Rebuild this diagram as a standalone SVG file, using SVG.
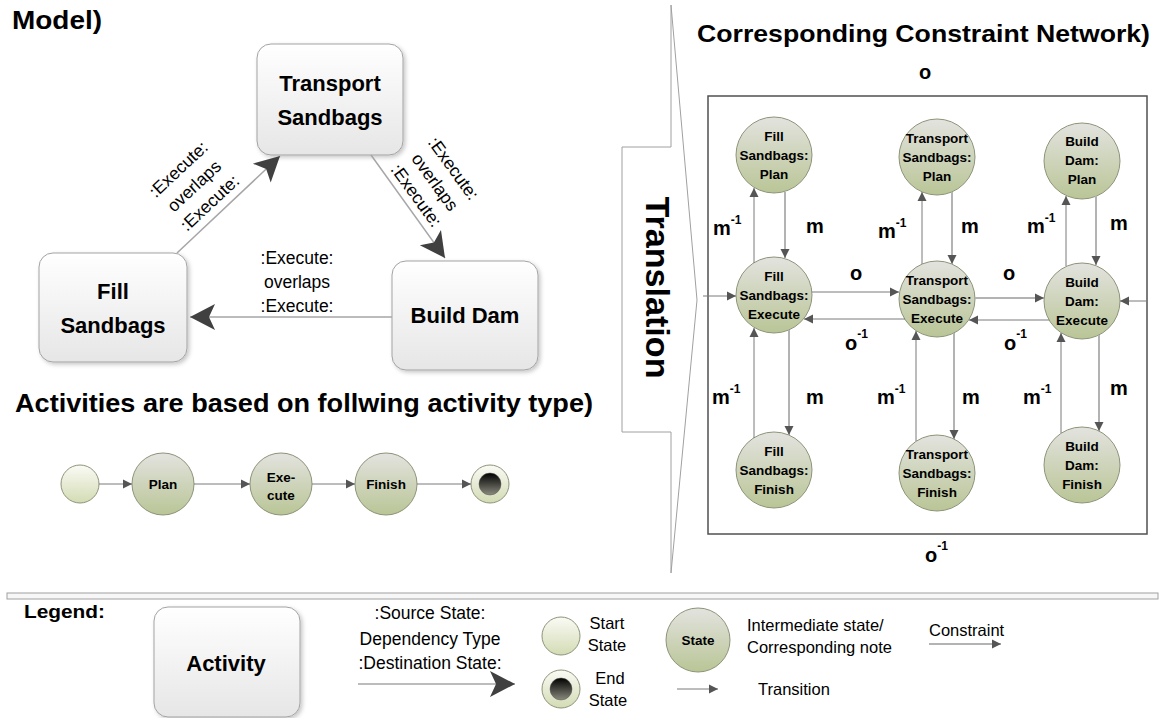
<svg xmlns="http://www.w3.org/2000/svg" width="1160" height="718" viewBox="0 0 1160 718">
<style>
text{font-family:"Liberation Sans",Arial,sans-serif;fill:#000}
.title{font-weight:bold}
.box{fill:url(#gBox);stroke:#a3a3a3;stroke-width:1}
.bt{font-weight:bold;font-size:22px;text-anchor:middle}
.lbl{font-size:17.5px;text-anchor:middle}
.st{fill:url(#gState);stroke:#8c9478;stroke-width:1}
.nt{font-weight:bold;font-size:13.5px;text-anchor:middle}
.start{fill:url(#gStart);stroke:#8c9478;stroke-width:1}
.endi{fill:url(#gEnd);stroke:#555;stroke-width:0.5}
.ml{fill:none;stroke:#a6a6a6;stroke-width:1.5}
.tl{fill:none;stroke:#7a7a7a;stroke-width:1}
.cl{fill:none;stroke:#b3b3b3;stroke-width:2}
.rel{font-weight:bold;font-size:20px}
.sup{font-size:12px;font-weight:bold}
.lg{font-size:16.5px}
</style>
<defs>
<linearGradient id="gBox" x1="0" y1="0" x2="0" y2="1"><stop offset="0" stop-color="#ffffff"/><stop offset="1" stop-color="#e6e6e6"/></linearGradient>
<linearGradient id="gState" x1="0" y1="0" x2="0" y2="1"><stop offset="0" stop-color="#e3e3df"/><stop offset="1" stop-color="#b9c596"/></linearGradient>
<linearGradient id="gStart" x1="0" y1="0" x2="0" y2="1"><stop offset="0" stop-color="#fafbf5"/><stop offset="1" stop-color="#d3dbb4"/></linearGradient>
<linearGradient id="gEnd" x1="0" y1="0" x2="0" y2="1"><stop offset="0" stop-color="#000000"/><stop offset="1" stop-color="#8a8a7e"/></linearGradient>
<filter id="sh" x="-10%" y="-10%" width="130%" height="130%"><feDropShadow dx="2" dy="2" stdDeviation="2" flood-color="#000" flood-opacity="0.22"/></filter>
<marker id="big" markerUnits="userSpaceOnUse" viewBox="-26 -14 28 28" refX="0" refY="0" markerWidth="28" markerHeight="28" orient="auto"><path d="M0,0 L-25,-13 L-19,0 L-25,13 Z" fill="#404040"/></marker>
<marker id="sm" markerUnits="userSpaceOnUse" viewBox="-10 -5 11 10" refX="0" refY="0" markerWidth="11" markerHeight="10" orient="auto"><path d="M0,0 L-9,-4.5 L-9,4.5 Z" fill="#555"/></marker>
</defs>

<!-- Titles -->
<text class="title" x="12" y="29" font-size="25" textLength="90" lengthAdjust="spacingAndGlyphs">Model)</text>
<text class="title" x="697" y="42" font-size="24" textLength="453" lengthAdjust="spacingAndGlyphs">Corresponding Constraint Network)</text>
<text class="title" x="15" y="412" font-size="26" textLength="578" lengthAdjust="spacingAndGlyphs">Activities are based on follwing activity type)</text>

<!-- Translation block arrow -->
<g id="translation">
<polygon points="622,147 671,147 671,5 697,300 671,573 671,432 622,432" fill="#fff" stroke="#a0a0a0" stroke-width="1"/>
<text class="title" font-size="34" transform="translate(646,287.5) rotate(90)" text-anchor="middle" textLength="182" lengthAdjust="spacingAndGlyphs">Translation</text>
</g>

<!-- Model nodes -->
<g id="transport-sandbags"><rect class="box" x="257" y="44" width="146" height="111" rx="14" filter="url(#sh)"/><text class="bt" x="330" y="91">Transport</text><text class="bt" x="330" y="125">Sandbags</text></g>
<g id="fill-sandbags"><rect class="box" x="39" y="253" width="148" height="109" rx="14" filter="url(#sh)"/><text class="bt" x="113" y="299">Fill</text><text class="bt" x="113" y="333">Sandbags</text></g>
<g id="build-dam"><rect class="box" x="392" y="261" width="146" height="109" rx="14" filter="url(#sh)"/><text class="bt" x="465" y="323">Build Dam</text></g>

<!-- Model connectors -->
<g id="model-connectors">
<line class="ml" x1="177" y1="253" x2="280" y2="156" marker-end="url(#big)"/>
<line class="ml" x1="371" y1="155" x2="445" y2="258" marker-end="url(#big)"/>
<line class="ml" x1="392" y1="317" x2="190" y2="317" marker-end="url(#big)"/>
<g transform="translate(194,186) rotate(-43)"><text class="lbl" x="0" y="-17">:Execute:</text><text class="lbl" x="0" y="6">overlaps</text><text class="lbl" x="0" y="29">:Execute:</text></g>
<g transform="translate(435,182) rotate(54)"><text class="lbl" x="0" y="-17">:Execute:</text><text class="lbl" x="0" y="6">overlaps</text><text class="lbl" x="0" y="29">:Execute:</text></g>
<text class="lbl" x="297" y="264">:Execute:</text><text class="lbl" x="297" y="288">overlaps</text><text class="lbl" x="297" y="312">:Execute:</text>
</g>

<!-- Activity type row -->
<g id="at-start"><circle class="start" cx="80" cy="484" r="19"/></g>
<g id="at-plan"><circle class="st" cx="163" cy="484" r="31"/><text class="nt" x="163" y="489">Plan</text></g>
<g id="at-execute"><circle class="st" cx="281" cy="484" r="31"/><text class="nt" x="281" y="482">Exe-</text><text class="nt" x="281" y="500">cute</text></g>
<g id="at-finish"><circle class="st" cx="386" cy="484" r="31"/><text class="nt" x="386" y="489">Finish</text></g>
<g id="at-end"><circle class="start" cx="490" cy="484" r="19"/><circle class="endi" cx="490" cy="484" r="11"/></g>
<g id="at-connectors">
<line class="tl" x1="99" y1="484" x2="132" y2="484" marker-end="url(#sm)"/>
<line class="tl" x1="194" y1="484" x2="250" y2="484" marker-end="url(#sm)"/>
<line class="tl" x1="312" y1="484" x2="355" y2="484" marker-end="url(#sm)"/>
<line class="tl" x1="417" y1="484" x2="471" y2="484" marker-end="url(#sm)"/>
</g>

<!-- Constraint network -->
<g id="network-frame"><rect x="708" y="96" width="439" height="438" fill="none" stroke="#505050" stroke-width="1.5"/></g>

<g id="fs-plan"><circle class="st" cx="774" cy="155" r="38"/><text class="nt" x="774" y="141">Fill</text><text class="nt" x="774" y="160">Sandbags:</text><text class="nt" x="774" y="179">Plan</text></g>
<g id="ts-plan"><circle class="st" cx="937" cy="157" r="38"/><text class="nt" x="937" y="143">Transport</text><text class="nt" x="937" y="162">Sandbags:</text><text class="nt" x="937" y="181">Plan</text></g>
<g id="bd-plan"><circle class="st" cx="1082" cy="161" r="38"/><text class="nt" x="1082" y="146">Build</text><text class="nt" x="1082" y="165">Dam:</text><text class="nt" x="1082" y="184">Plan</text></g>

<g id="fs-execute"><circle class="st" cx="774" cy="295" r="38"/><text class="nt" x="774" y="281">Fill</text><text class="nt" x="774" y="300">Sandbags:</text><text class="nt" x="774" y="319">Execute</text></g>
<g id="ts-execute"><circle class="st" cx="937" cy="299" r="38"/><text class="nt" x="937" y="285">Transport</text><text class="nt" x="937" y="304">Sandbags:</text><text class="nt" x="937" y="323">Execute</text></g>
<g id="bd-execute"><circle class="st" cx="1082" cy="301" r="38"/><text class="nt" x="1082" y="287">Build</text><text class="nt" x="1082" y="306">Dam:</text><text class="nt" x="1082" y="325">Execute</text></g>

<g id="fs-finish"><circle class="st" cx="774" cy="470" r="38"/><text class="nt" x="774" y="456">Fill</text><text class="nt" x="774" y="475">Sandbags:</text><text class="nt" x="774" y="494">Finish</text></g>
<g id="ts-finish"><circle class="st" cx="937" cy="473" r="38"/><text class="nt" x="937" y="459">Transport</text><text class="nt" x="937" y="478">Sandbags:</text><text class="nt" x="937" y="497">Finish</text></g>
<g id="bd-finish"><circle class="st" cx="1082" cy="465" r="38"/><text class="nt" x="1082" y="451">Build</text><text class="nt" x="1082" y="470">Dam:</text><text class="nt" x="1082" y="489">Finish</text></g>

<g id="network-connectors">
<line class="tl" x1="754" y1="263" x2="754" y2="188" marker-end="url(#sm)"/>
<line class="cl" x1="785" y1="192" x2="785" y2="258" marker-end="url(#sm)"/>
<line class="tl" x1="922" y1="264" x2="922" y2="192" marker-end="url(#sm)"/>
<line class="cl" x1="952" y1="192" x2="952" y2="264" marker-end="url(#sm)"/>
<line class="tl" x1="1066" y1="266" x2="1066" y2="196" marker-end="url(#sm)"/>
<line class="cl" x1="1096" y1="196" x2="1096" y2="265" marker-end="url(#sm)"/>

<line class="tl" x1="754" y1="438" x2="754" y2="328" marker-end="url(#sm)"/>
<line class="cl" x1="789" y1="330" x2="789" y2="435" marker-end="url(#sm)"/>
<line class="tl" x1="916" y1="441" x2="916" y2="331" marker-end="url(#sm)"/>
<line class="cl" x1="954" y1="333" x2="954" y2="439" marker-end="url(#sm)"/>
<line class="tl" x1="1061" y1="433" x2="1061" y2="333" marker-end="url(#sm)"/>
<line class="cl" x1="1099" y1="335" x2="1099" y2="431" marker-end="url(#sm)"/>

<line class="tl" x1="812" y1="292" x2="899" y2="292" marker-end="url(#sm)"/>
<line class="tl" x1="905" y1="319" x2="804" y2="319" marker-end="url(#sm)"/>
<line class="cl" x1="975" y1="298" x2="1044" y2="298" marker-end="url(#sm)"/>
<line class="tl" x1="1049" y1="320" x2="969" y2="320" marker-end="url(#sm)"/>

<line class="tl" x1="703" y1="296" x2="736" y2="296" stroke-width="1.5" marker-end="url(#sm)"/>
<line class="tl" x1="1147" y1="301" x2="1120" y2="301" stroke-width="1.5" marker-end="url(#sm)"/>

<text class="rel" x="713" y="235">m<tspan class="sup" dy="-11">-1</tspan></text>
<text class="rel" x="806" y="233">m</text>
<text class="rel" x="878" y="238">m<tspan class="sup" dy="-11">-1</tspan></text>
<text class="rel" x="961" y="233">m</text>
<text class="rel" x="1027" y="233">m<tspan class="sup" dy="-11">-1</tspan></text>
<text class="rel" x="1110" y="230">m</text>

<text class="rel" x="712" y="404">m<tspan class="sup" dy="-11">-1</tspan></text>
<text class="rel" x="806" y="404">m</text>
<text class="rel" x="877" y="404">m<tspan class="sup" dy="-11">-1</tspan></text>
<text class="rel" x="962" y="404">m</text>
<text class="rel" x="1023" y="404">m<tspan class="sup" dy="-11">-1</tspan></text>
<text class="rel" x="1110" y="395">m</text>

<text class="rel" x="850" y="280">o</text>
<text class="rel" x="1003" y="280">o</text>
<text class="rel" x="845" y="350">o<tspan class="sup" dy="-12">-1</tspan></text>
<text class="rel" x="1004" y="350">o<tspan class="sup" dy="-12">-1</tspan></text>
<text class="rel" x="919" y="79">o</text>
<text class="rel" x="925" y="562">o<tspan class="sup" dy="-12">-1</tspan></text>
</g>

<!-- Legend -->
<g id="separator"><rect x="7" y="593" width="1151" height="6" fill="#f7f7f7" stroke="#a0a0a0" stroke-width="1"/></g>
<g id="legend">
<text class="title" x="24" y="618" font-size="19" textLength="81" lengthAdjust="spacingAndGlyphs">Legend:</text>
<g id="lg-activity"><rect class="box" x="154" y="607" width="146" height="110" rx="14" filter="url(#sh)"/><text class="bt" x="226" y="671">Activity</text></g>
<text class="lbl" x="430" y="619">:Source State:</text>
<text class="lbl" x="430" y="645">Dependency Type</text>
<text class="lbl" x="430" y="669">:Destination State:</text>
<line class="ml" x1="358" y1="684" x2="515" y2="684" marker-end="url(#big)"/>
<g id="lg-start"><circle class="start" cx="561" cy="636" r="19"/></g>
<text class="lg" x="607" y="629" text-anchor="middle">Start</text>
<text class="lg" x="607" y="651" text-anchor="middle">State</text>
<g id="lg-end"><circle class="start" cx="561" cy="689" r="19"/><circle class="endi" cx="561" cy="689" r="11"/></g>
<text class="lg" x="610" y="684" text-anchor="middle">End</text>
<text class="lg" x="608" y="706" text-anchor="middle">State</text>
<g id="lg-state"><circle class="st" cx="698" cy="640" r="32"/><text class="nt" x="698" y="645">State</text></g>
<text class="lg" x="747" y="631">Intermediate state/</text>
<text class="lg" x="747" y="653">Corresponding note</text>
<text class="lg" x="929" y="636">Constraint</text>
<line class="cl" x1="929" y1="644" x2="1001" y2="644" marker-end="url(#sm)"/>
<line class="tl" x1="677" y1="689" x2="718" y2="689" marker-end="url(#sm)"/>
<text class="lg" x="758" y="695">Transition</text>
</g>
</svg>
